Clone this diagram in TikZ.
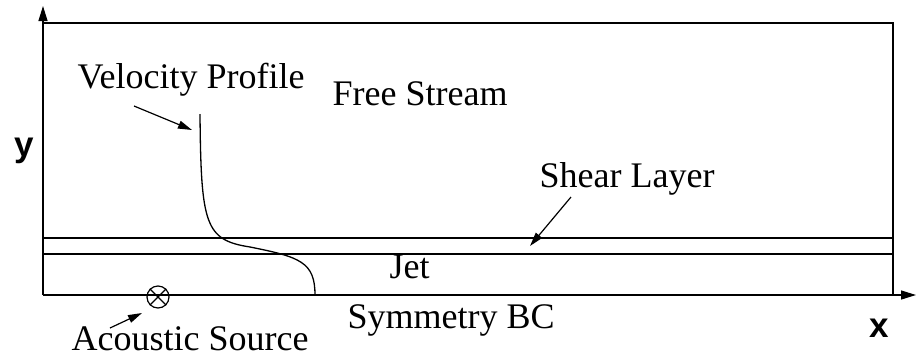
\documentclass[tikz,border=0pt]{standalone}
\usepackage{fontspec}
\setmainfont{Liberation Serif}
\setsansfont{Liberation Sans}
\usetikzlibrary{arrows.meta}
\begin{document}
\begin{tikzpicture}[x=1pt,y=-1pt,
  line width=1.3pt,
  lbl/.style={inner sep=0pt,anchor=base west,font=\fontsize{36}{43}\selectfont},
  axlbl/.style={inner sep=0pt,anchor=base,font=\fontsize{35}{42}\selectfont\sffamily\bfseries},
  pointer/.style={line width=1.2pt,-{Triangle[length=14pt,width=8pt]}},
  axis/.style={line width=1.3pt,-{Triangle[length=15pt,width=9pt]}}]
\useasboundingbox (0,0) rectangle (916,357);
% domain
\coordinate (o) at (43,295);
\coordinate (ytip) at (43,6);
\coordinate (xtip) at (916,295);
\coordinate (tl) at (43,23);
\coordinate (tr) at (893,23);
\coordinate (br) at (893,295);
\draw (tl) -- (tr) -- (br);
\draw[axis] (o) -- (ytip);
\draw[axis] (o) -- (xtip);
% shear layer and jet lines
\coordinate (s1) at (43,238);
\coordinate (s2) at (893,238);
\coordinate (j1) at (43,254);
\coordinate (j2) at (893,254);
\draw (s1) -- (s2);
\draw (j1) -- (j2);
% velocity profile
\coordinate (vp0) at (200,114);
\coordinate (vpm) at (250,247);
\coordinate (vp1) at (315,295);
\draw (vp0) .. controls (201,225) and (205,240) .. (vpm)
      .. controls (300,257) and (315,262) .. (vp1);
% acoustic source
\node[draw,circle,minimum size=22pt,inner sep=0pt,line width=1.2pt] (src) at (158,297) {};
\draw[line width=1.1pt] (src.north west) -- (src.south east) (src.north east) -- (src.south west);
% labels
\node[lbl] (vel) at (77,88) {Velocity Profile};
\node[lbl] (fs) at (332,105) {Free Stream};
\node[lbl] (sl) at (539,187) {Shear Layer};
\node[lbl] (jet) at (389,278) {Jet};
\node[lbl] (sym) at (347,328) {Symmetry BC};
\node[lbl] (as) at (71,350) {Acoustic Source};
\node[axlbl] (ylab) at (24,156) {y};
\node[axlbl] (xlab) at (879,337) {x};
% pointers
\coordinate (velA) at (134,106);
\coordinate (velB) at (192,130);
\coordinate (slA) at (571,197);
\coordinate (slB) at (530,246);
\coordinate (asA) at (110,328);
\coordinate (asB) at (142,313);
\draw[pointer] (velA) -- (velB);
\draw[pointer] (slA) -- (slB);
\draw[pointer] (asA) -- (asB);
\end{tikzpicture}
\end{document}
